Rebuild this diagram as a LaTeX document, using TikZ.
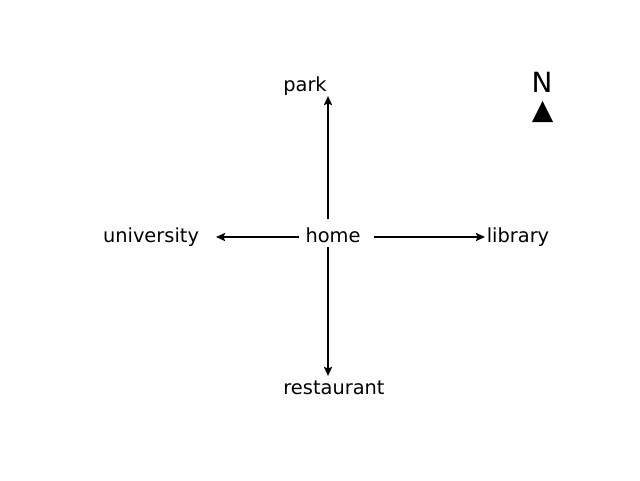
\documentclass[tikz,border=0pt]{standalone}
\usepackage{fontspec}
\setmainfont{DejaVu Sans}
\usetikzlibrary{arrows.meta}
\begin{document}
\begin{tikzpicture}[x=1pt,y=-1pt,
  lbl/.style={inner sep=0pt,anchor=base,font=\fontsize{19.4}{23}\selectfont},
  conn/.style={line width=2.2pt,-{Stealth[length=9pt,width=8pt,inset=1.5pt]}}]
\useasboundingbox (0,0) rectangle (640,480);
\node[lbl] (home) at (333,242.5) {home};
\node[lbl] (park) at (305,91.5) {park};
\node[lbl] (restaurant) at (334,394) {restaurant};
\node[lbl] (university) at (151,242.5) {university};
\node[lbl] (library) at (518,242.5) {library};
\node[lbl,font=\fontsize{27.8}{30}\selectfont] (north) at (542,92) {N};
\coordinate (hu) at (328,219);
\coordinate (hd) at (328,247);
\coordinate (hl) at (299,237);
\coordinate (hr) at (374,237);
\coordinate (pu) at (328,96);
\coordinate (rd) at (328,376);
\coordinate (ul) at (216,237);
\coordinate (lr) at (485,237);
\draw[conn] (hu) -- (pu);
\draw[conn] (hd) -- (rd);
\draw[conn] (hl) -- (ul);
\draw[conn] (hr) -- (lr);
\fill (532,122) -- (553,122) -- (542.5,101) -- cycle;
\end{tikzpicture}
\end{document}
